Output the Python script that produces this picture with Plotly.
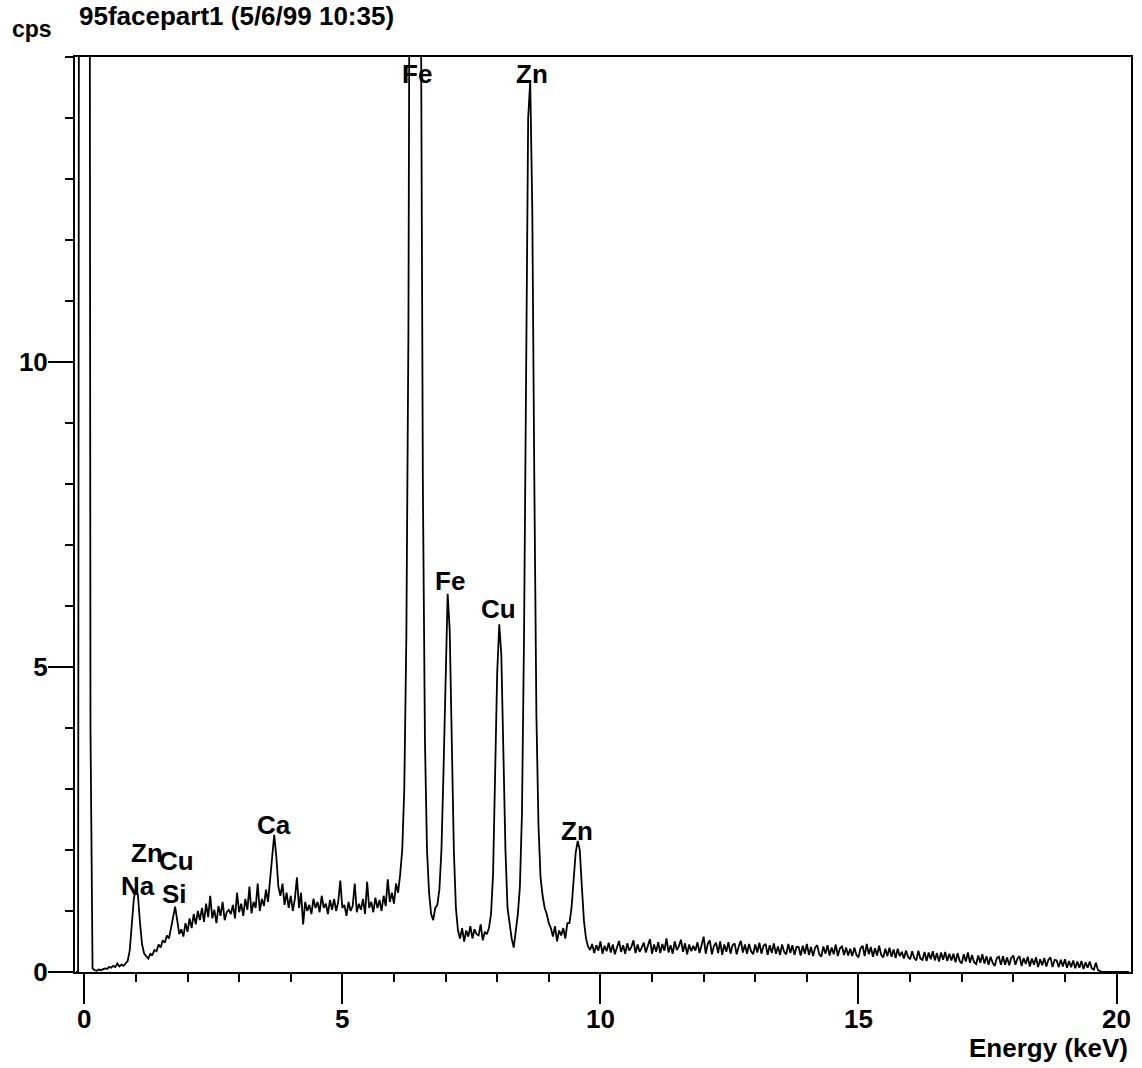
import numpy as np
import plotly.graph_objects as go

# Detector calibration: first channel energy and channel width (keV)
CHANNEL_START_KEV = -0.16
CHANNEL_WIDTH_KEV = 0.04

# Counts per channel, one row per keV band (row k spans k-0.16 .. k+0.80 keV)
counts_0_6 = [
    0.0, 0.0, 40, 110, 120, 110, 40, 4, 0.06, 0.03, 0.02, 0.04, 0.03, 0.05, 0.06, 0.05, 0.08, 0.07, 0.10, 0.08, 0.14, 0.09, 0.12, 0.10, 0.15,
    0.18, 0.35, 0.75, 1.20, 1.38, 1.25, 0.80, 0.45, 0.30, 0.26, 0.22, 0.30, 0.28, 0.36, 0.34, 0.45, 0.40, 0.52, 0.48, 0.60, 0.55, 0.72, 0.90, 1.07, 0.85,
    0.62, 0.70, 0.58, 0.80, 0.66, 0.88, 0.72, 0.95, 0.78, 1.00, 0.85, 1.05, 0.82, 1.12, 0.90, 1.25, 0.88, 1.02, 0.80, 1.08, 0.92, 1.15, 0.85, 0.98, 1.02,
    0.95, 1.10, 0.88, 1.30, 0.98, 1.12, 0.92, 1.20, 1.02, 1.40, 0.96, 1.15, 1.05, 1.45, 1.00, 1.20, 1.08, 1.35, 1.15, 1.50, 1.95, 2.25, 1.90, 1.40, 1.25,
    1.45, 1.10, 1.30, 1.05, 1.25, 1.00, 1.20, 1.55, 1.05, 1.30, 0.78, 1.15, 1.00, 1.10, 0.95, 1.20, 1.05, 1.15, 0.98, 1.25, 1.05, 1.12, 0.95, 1.18, 1.02,
    1.20, 1.00, 1.15, 1.50, 1.05, 1.10, 0.92, 1.15, 1.00, 1.08, 1.45, 0.98, 1.12, 1.02, 1.20, 0.95, 1.48, 1.05, 1.15, 0.98, 1.22, 1.05, 1.18, 1.00, 1.25,
]
counts_6_10 = [
    1.08, 1.52, 1.15, 1.30, 1.12, 1.45, 1.30, 1.60, 2.0, 3.0, 5.5, 10.5, 17, 32, 46, 44, 30, 16.5, 8.0, 3.8, 2.0, 1.30, 0.95, 0.85, 1.05,
    1.10, 1.35, 2.0, 3.3, 5.0, 6.2, 5.6, 3.7, 2.0, 1.05, 0.68, 0.55, 0.72, 0.50, 0.68, 0.58, 0.75, 0.55, 0.70, 0.62, 0.60, 0.78, 0.52, 0.66, 0.62,
    0.72, 0.95, 1.6, 3.0, 4.9, 5.7, 5.2, 3.6, 2.0, 1.05, 0.75, 0.55, 0.40, 0.72, 0.95, 1.4, 2.6, 5.5, 10.5, 14.0, 14.6, 12.5, 8.0, 4.2, 2.4,
    1.55, 1.25, 1.05, 0.95, 0.80, 0.72, 0.58, 0.75, 0.50, 0.68, 0.60, 0.72, 0.55, 0.80, 0.80, 1.05, 1.5, 1.95, 2.15, 2.0, 1.4, 0.85, 0.55, 0.42, 0.36,
]
counts_10_20 = [
    0.46, 0.31, 0.44, 0.35, 0.50, 0.30, 0.43, 0.34, 0.48, 0.32, 0.45, 0.29, 0.42, 0.51, 0.33, 0.44, 0.30, 0.47, 0.35, 0.41, 0.52, 0.31, 0.45, 0.33, 0.40,
    0.48, 0.32, 0.43, 0.54, 0.30, 0.45, 0.33, 0.49, 0.31, 0.46, 0.35, 0.55, 0.32, 0.44, 0.30, 0.50, 0.36, 0.42, 0.53, 0.33, 0.47, 0.29, 0.45, 0.34, 0.43,
    0.35, 0.49, 0.31, 0.44, 0.58, 0.30, 0.46, 0.52, 0.29, 0.43, 0.48, 0.31, 0.50, 0.28, 0.45, 0.33, 0.49, 0.30, 0.44, 0.47, 0.29, 0.42, 0.51, 0.32, 0.45,
    0.30, 0.46, 0.34, 0.29, 0.45, 0.32, 0.48, 0.30, 0.43, 0.46, 0.28, 0.44, 0.31, 0.47, 0.30, 0.42, 0.28, 0.45, 0.33, 0.29, 0.46, 0.31, 0.44, 0.28, 0.41,
    0.41, 0.27, 0.43, 0.30, 0.46, 0.28, 0.41, 0.26, 0.40, 0.44, 0.29, 0.25, 0.42, 0.30, 0.44, 0.27, 0.40, 0.29, 0.45, 0.26, 0.39, 0.42, 0.28, 0.40, 0.27,
    0.38, 0.26, 0.40, 0.28, 0.24, 0.39, 0.43, 0.26, 0.46, 0.29, 0.41, 0.25, 0.39, 0.27, 0.43, 0.28, 0.24, 0.38, 0.26, 0.40, 0.25, 0.37, 0.23, 0.38, 0.26,
    0.33, 0.22, 0.35, 0.25, 0.21, 0.34, 0.23, 0.19, 0.35, 0.22, 0.20, 0.33, 0.18, 0.32, 0.21, 0.34, 0.19, 0.31, 0.17, 0.32, 0.20, 0.33, 0.18, 0.30, 0.19,
    0.30, 0.16, 0.31, 0.18, 0.14, 0.29, 0.17, 0.32, 0.15, 0.28, 0.16, 0.13, 0.27, 0.15, 0.29, 0.14, 0.26, 0.12, 0.25, 0.15, 0.10, 0.23, 0.25, 0.12, 0.26,
    0.12, 0.24, 0.11, 0.23, 0.27, 0.12, 0.22, 0.26, 0.10, 0.23, 0.13, 0.25, 0.09, 0.22, 0.12, 0.24, 0.08, 0.21, 0.11, 0.23, 0.09, 0.20, 0.24, 0.08, 0.20,
    0.19, 0.08, 0.20, 0.09, 0.21, 0.07, 0.18, 0.08, 0.19, 0.06, 0.17, 0.07, 0.18, 0.05, 0.16, 0.07, 0.17, 0.06, 0.04, 0.15, 0.03, 0.01, 0.0, 0.0, 0.0,
    0.0, 0.0, 0.0, 0.0, 0.0, 0.0, 0.0, 0.0, 0.0, 0.0, 0.0,
]

# Element identifications placed over their peaks (keV, cps)
peak_labels = ["Fe", "Zn", "Fe", "Cu", "Zn", "Ca", "Na", "Si", "Zn", "Cu"]
label_kev = [6.44, 8.67, 7.08, 8.03, 9.54, 3.68, 1.05, 1.75, 1.21, 1.78]
label_cps = [14.72, 14.72, 6.41, 5.95, 2.31, 2.41, 1.41, 1.28, 1.95, 1.82]

x_tick_values = [0, 5, 10, 15, 20]
y_tick_values = [0, 5, 10]

title_text = "95facepart1 (5/6/99 10:35)"
y_title = "cps"
x_title = "Energy (keV)"

counts = np.array(counts_0_6 + counts_6_10 + counts_10_20, dtype=float)
energy = CHANNEL_START_KEV + CHANNEL_WIDTH_KEV * np.arange(counts.size)

FONT = "Liberation Sans, Arial, Helvetica, sans-serif"
text_font = dict(family=FONT, size=26, color="black", weight="bold")

fig = go.Figure()
fig.add_trace(go.Scatter(
    x=energy, y=counts, mode="lines",
    line=dict(color="black", width=1.8),
    hoverinfo="skip", showlegend=False,
))

annotations = []
for name, kev, cps in zip(peak_labels, label_kev, label_cps):
    annotations.append(dict(
        x=kev, y=cps, xref="x", yref="y", text=name, showarrow=False,
        xanchor="center", yanchor="middle", font=text_font,
    ))
annotations += [
    dict(x=0.002, y=1.063, xref="paper", yref="paper", text=title_text,
         showarrow=False, xanchor="left", yanchor="top", font=text_font),
    dict(x=-0.0406, y=1.031, xref="paper", yref="paper", text=y_title,
         showarrow=False, xanchor="center", yanchor="middle",
         font=dict(family=FONT, size=23, color="black", weight="bold")),
    dict(x=0.999, y=-0.083, xref="paper", yref="paper", text=x_title,
         showarrow=False, xanchor="right", yanchor="middle", font=text_font),
]

fig.update_layout(
    width=1142, height=1068, autosize=False,
    margin=dict(l=75, r=9, t=57, b=96, pad=0),
    paper_bgcolor="white", plot_bgcolor="white",
    annotations=annotations,
    showlegend=False,
)

fig.update_xaxes(
    range=[-0.18, 20.28],
    showline=True, linewidth=2, linecolor="black", mirror=True,
    showgrid=False, zeroline=False,
    tickmode="array", tickvals=x_tick_values,
    ticks="outside", ticklen=30, tickwidth=2, tickcolor="black",
    tickfont=text_font, ticklabelstandoff=-7,
    minor=dict(tickmode="linear", tick0=0, dtick=1, ticks="outside",
               ticklen=8, tickwidth=1.5, tickcolor="black", showgrid=False),
)
fig.update_yaxes(
    range=[0, 15],
    showline=True, linewidth=2, linecolor="black", mirror=True,
    showgrid=False, zeroline=False,
    tickmode="array", tickvals=y_tick_values,
    ticks="outside", ticklen=25, tickwidth=2, tickcolor="black",
    tickfont=text_font, ticklabelstandoff=-5,
    minor=dict(tickmode="linear", tick0=0, dtick=1, ticks="outside",
               ticklen=8, tickwidth=1.5, tickcolor="black", showgrid=False),
)

fig.write_html("out.html")
